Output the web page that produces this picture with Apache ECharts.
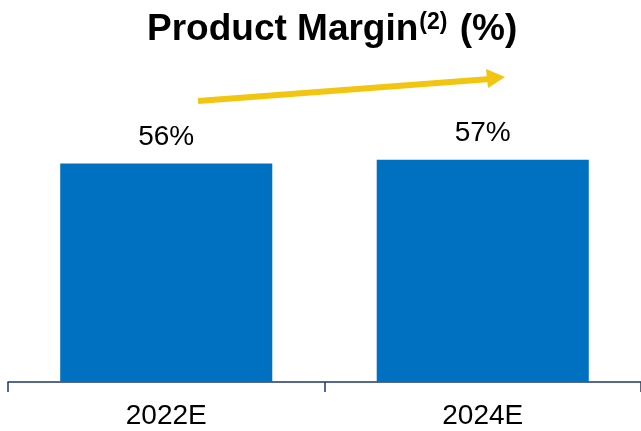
<!DOCTYPE html>
<html><head><meta charset="utf-8">
<script src="https://cdn.jsdelivr.net/npm/echarts@6/dist/echarts.min.js"></script>
<style>html,body{margin:0;padding:0;background:#fff}#c{width:641px;height:431px}</style>
</head><body><div id="c"></div>
<script>
const categories = ['2022E', '2024E'];
const margins = [56, 57];
const chart = echarts.init(document.getElementById('c'));
chart.setOption({
  animation: false,
  title: {
    text: 'Product Margin{sup|(2)} (%)',
    left: 142, top: 6,
    textStyle: {
      fontFamily: 'Liberation Sans', fontWeight: 'bold', fontSize: 37, color: '#000',
      rich: { sup: { fontFamily: 'Liberation Sans', fontWeight: 'bold', fontSize: 23, color: '#000', verticalAlign: 'top', padding: [0, 2, 14, 1] } }
    }
  },
  grid: { left: 8, right: 0, top: 148, bottom: 49 },
  xAxis: {
    type: 'category', data: categories,
    axisLine: { lineStyle: { color: '#1F3864', width: 1.5 } },
    axisTick: { show: true, length: 10, alignWithLabel: false, lineStyle: { color: '#1F3864', width: 1.5 } },
    axisLabel: { fontFamily: 'Liberation Sans', fontSize: 28, color: '#000', margin: 20 }
  },
  yAxis: { type: 'value', min: 0, max: 60, show: false, splitLine: { show: false } },
  series: [{
    type: 'bar', data: margins, barWidth: '67%',
    itemStyle: { color: '#0070C0' },
    label: { show: true, position: 'top', distance: 12, formatter: '{c}%', fontFamily: 'Liberation Sans', fontSize: 28, color: '#000' }
  }],
  graphic: [
    { type: 'line', shape: { x1: 198, y1: 101, x2: 490, y2: 79 }, style: { stroke: '#F2C511', lineWidth: 6 } },
    { type: 'polygon', shape: { points: [[505, 77], [486, 69], [488, 88]] }, style: { fill: '#F2C511' } }
  ]
});
</script></body></html>
